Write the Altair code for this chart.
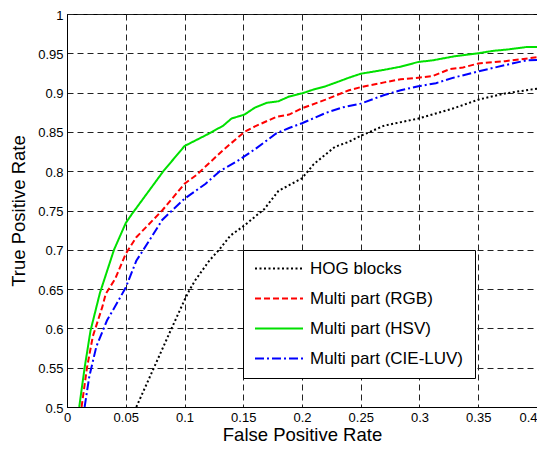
import altair as alt
import pandas as pd

series_names = ["HOG blocks", "Multi part (RGB)", "Multi part (HSV)", "Multi part (CIE-LUV)"]
series_colors = ["#000000", "#FF0000", "#00E000", "#0000FF"]

hog_x = [0.059, 0.074, 0.089, 0.1, 0.104, 0.109, 0.121, 0.13, 0.139, 0.151, 0.168, 0.18, 0.2, 0.21, 0.219,
         0.228, 0.24, 0.25, 0.27, 0.299, 0.329, 0.35, 0.373, 0.4]
hog_y = [0.5, 0.55, 0.6, 0.636, 0.648, 0.661, 0.686, 0.701, 0.718, 0.731, 0.752, 0.775, 0.791, 0.809, 0.82,
         0.831, 0.8375, 0.845, 0.858, 0.867, 0.88, 0.891, 0.899, 0.905]

rgb_x = [0.0124, 0.017, 0.022, 0.03, 0.033, 0.041, 0.05, 0.059, 0.081, 0.1, 0.11, 0.133, 0.151, 0.16, 0.178,
         0.189, 0.2, 0.22, 0.24, 0.25, 0.27, 0.284, 0.299, 0.311, 0.326, 0.337, 0.35, 0.373, 0.4]
rgb_y = [0.5, 0.55, 0.59, 0.627, 0.644, 0.663, 0.695, 0.716, 0.75, 0.784, 0.795, 0.827, 0.85, 0.857, 0.869,
         0.872, 0.88, 0.891, 0.903, 0.907, 0.913, 0.917, 0.919, 0.921, 0.93, 0.932, 0.937, 0.94, 0.945]

hsv_x = [0.0104, 0.015, 0.02, 0.028, 0.04, 0.05, 0.055, 0.082, 0.1, 0.121, 0.133, 0.14, 0.151, 0.16, 0.17,
         0.18, 0.189, 0.2, 0.21, 0.22, 0.231, 0.24, 0.25, 0.27, 0.284, 0.299, 0.311, 0.329, 0.35, 0.362,
         0.376, 0.391, 0.4]
hsv_y = [0.5, 0.55, 0.597, 0.645, 0.7, 0.734, 0.745, 0.8, 0.832, 0.848, 0.858, 0.867, 0.872, 0.881, 0.887,
         0.889, 0.895, 0.899, 0.904, 0.908, 0.914, 0.919, 0.924, 0.929, 0.933, 0.939, 0.941, 0.946, 0.95, 0.953,
         0.955, 0.958, 0.958]

luv_x = [0.015, 0.019, 0.025, 0.034, 0.044, 0.05, 0.059, 0.071, 0.081, 0.1, 0.118, 0.13, 0.145, 0.16, 0.178,
         0.189, 0.2, 0.22, 0.234, 0.25, 0.27, 0.284, 0.299, 0.314, 0.329, 0.35, 0.373, 0.391, 0.4]
luv_y = [0.5, 0.539, 0.577, 0.61, 0.636, 0.652, 0.686, 0.714, 0.738, 0.765, 0.784, 0.8, 0.813, 0.828, 0.848,
         0.855, 0.861, 0.874, 0.881, 0.886, 0.897, 0.903, 0.908, 0.912, 0.919, 0.927, 0.935, 0.941, 0.9415]

x_ticks = [0, 0.05, 0.1, 0.15, 0.2, 0.25, 0.3, 0.35, 0.4]
y_ticks = [0.5, 0.55, 0.6, 0.65, 0.7, 0.75, 0.8, 0.85, 0.9, 0.95, 1]

frames = []
for name, xs, ys in [(series_names[0], hog_x, hog_y), (series_names[1], rgb_x, rgb_y),
                     (series_names[3], luv_x, luv_y), (series_names[2], hsv_x, hsv_y)]:
    frames.append(pd.DataFrame({"fpr": xs, "tpr": ys, "series": name, "i": range(len(xs))}))
df = pd.concat(frames, ignore_index=True)

dashes = [[2, 2.5], [6, 3], [1, 0], [9, 3, 2, 3]]

legend_kw = dict(title=None, orient="none", legendX=176, legendY=236)

chart = alt.Chart(df).mark_line(strokeWidth=2, clip=True).encode(
    x=alt.X("fpr:Q", title="False Positive Rate",
            scale=alt.Scale(domain=[0, 0.4], nice=False, zero=False),
            axis=alt.Axis(values=x_ticks, format="~g", labelPadding=4,
                          labelAlign=alt.ExprRef(expr="datum.value >= 0.399 ? 'right' : 'center'"),
                          titleY=33, titleBaseline="alphabetic")),
    y=alt.Y("tpr:Q", title="True Positive Rate",
            scale=alt.Scale(domain=[0.5, 1], nice=False, zero=False),
            axis=alt.Axis(values=y_ticks, format="~g", labelPadding=4, labelOffset=1,
                          titleX=-43, titleBaseline="alphabetic")),
    color=alt.Color("series:N", scale=alt.Scale(domain=series_names, range=series_colors),
                    legend=alt.Legend(**legend_kw)),
    strokeDash=alt.StrokeDash("series:N", scale=alt.Scale(domain=series_names, range=dashes),
                              legend=alt.Legend(**legend_kw)),
    detail="series:N",
    order="i:Q",
).properties(
    width=470, height=393,
    autosize=alt.AutoSizeParams(type="none"),
    padding={"left": 59, "top": 6, "right": 0, "bottom": 38},
).configure_view(
    stroke="black", strokeWidth=1
).configure_axis(
    domain=True, domainColor="black", domainWidth=1,
    ticks=False,
    grid=True, gridColor="#222222", gridDash=[6, 4], gridWidth=1, gridOpacity=1,
    labelFont="Liberation Sans", labelFontSize=13, labelColor="black",
    titleFont="Liberation Sans", titleFontSize=18.5, titleFontWeight="normal", titleColor="black",
).configure_legend(
    fillColor="white", strokeColor="black", padding=11,
    symbolType="stroke", symbolSize=2304, symbolStrokeWidth=2, clipHeight=15,
    labelFont="Liberation Sans", labelFontSize=17, labelColor="black", labelOffset=6,
    rowPadding=12, labelLimit=400,
)

chart.save("out.html", embed_options={"renderer": "svg", "actions": False})
